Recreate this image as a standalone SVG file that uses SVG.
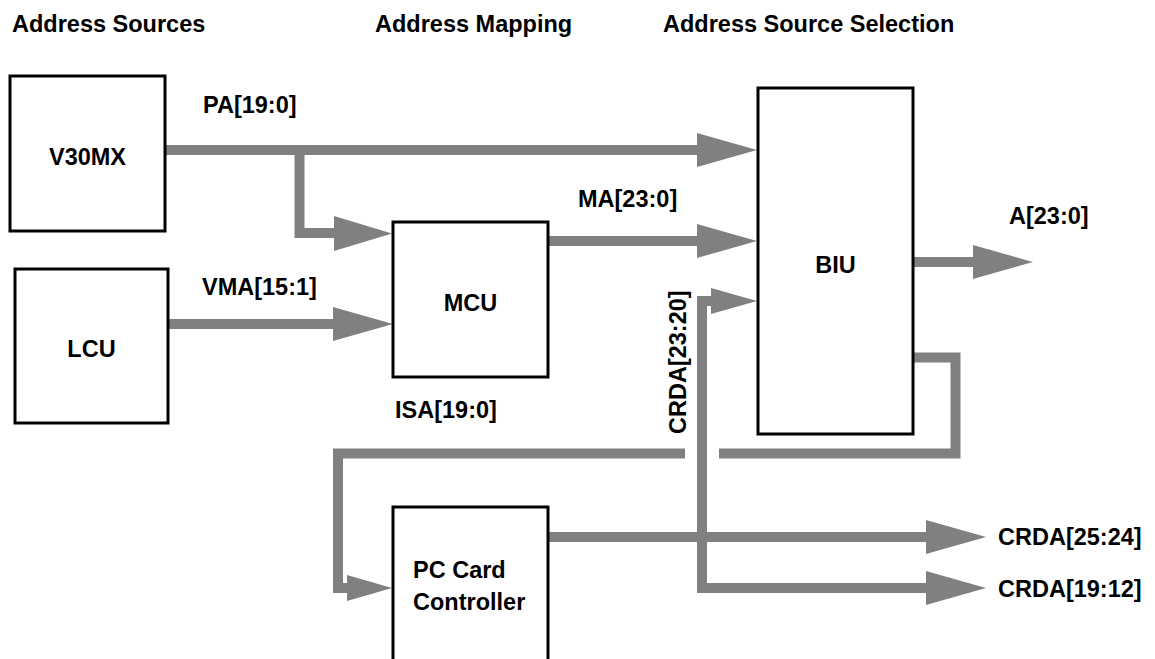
<svg xmlns="http://www.w3.org/2000/svg" width="1155" height="659" viewBox="0 0 1155 659">
<style>
.box{fill:#fff;stroke:#000;stroke-width:3}
.t{font-family:"Liberation Sans",Arial,sans-serif;font-weight:bold;font-size:23.5px;fill:#000}
.c{text-anchor:middle}
.bus{fill:none;stroke:#808080;stroke-width:10;stroke-linejoin:miter;stroke-linecap:butt}
.head{fill:#808080;stroke:none}
</style>
<rect width="1155" height="659" fill="#fff"/>
<g id="headers">
<text class="t" x="12" y="32">Address Sources</text>
<text class="t" x="375" y="32">Address Mapping</text>
<text class="t" x="663" y="32">Address Source Selection</text>
</g>
<g id="connectors">
<path class="bus" d="M165,150 H698"/>
<polygon class="head" points="697,133 757,150 697,167"/>
<path class="bus" d="M299.5,150 V233 H335"/>
<polygon class="head" points="334,216 392,233.5 334,251"/>
<path class="bus" d="M548,241 H698"/>
<polygon class="head" points="697,224 757,241 697,258"/>
<path class="bus" d="M168,324 H334"/>
<polygon class="head" points="333,307 393,324 333,341"/>
<path class="bus" d="M913,262 H974"/>
<polygon class="head" points="973,245 1033,262 973,279"/>
<path class="bus" d="M712,301 H702 V588 H927"/>
<polygon class="head" points="711,288 757,301 711,314"/>
<polygon class="head" points="926,571 986,588 926,605"/>
<path class="bus" d="M548,537 H927"/>
<polygon class="head" points="926,520 986,537 926,554"/>
<path class="bus" d="M913,357.5 H955.5 V453.5 H719"/>
<path class="bus" d="M685,453.5 H338 V588 H348"/>
<polygon class="head" points="347,575 392,588 347,601"/>
</g>
<g id="labels">
<text class="t" x="203" y="113">PA[19:0]</text>
<text class="t" x="578" y="207">MA[23:0]</text>
<text class="t" x="1009" y="224">A[23:0]</text>
<text class="t" x="202" y="295">VMA[15:1]</text>
<text class="t" x="395" y="418">ISA[19:0]</text>
<text class="t" transform="translate(686,434) rotate(-90)">CRDA[23:20]</text>
<text class="t" x="998" y="545">CRDA[25:24]</text>
<text class="t" x="998" y="597">CRDA[19:12]</text>
</g>
<g id="V30MX">
<rect class="box" x="10" y="76" width="155" height="155"/>
<text class="t c" x="87.5" y="165">V30MX</text>
</g>
<g id="LCU">
<rect class="box" x="15" y="269" width="153" height="154"/>
<text class="t c" x="91.5" y="357">LCU</text>
</g>
<g id="MCU">
<rect class="box" x="393" y="222" width="155" height="155"/>
<text class="t c" x="470.5" y="311">MCU</text>
</g>
<g id="BIU">
<rect class="box" x="758" y="88" width="155" height="346"/>
<text class="t c" x="835.5" y="273">BIU</text>
</g>
<g id="PCCard">
<rect class="box" x="393" y="507" width="155" height="160"/>
<text class="t" x="413" y="578">PC Card</text>
<text class="t" x="413" y="610">Controller</text>
</g>
</svg>
